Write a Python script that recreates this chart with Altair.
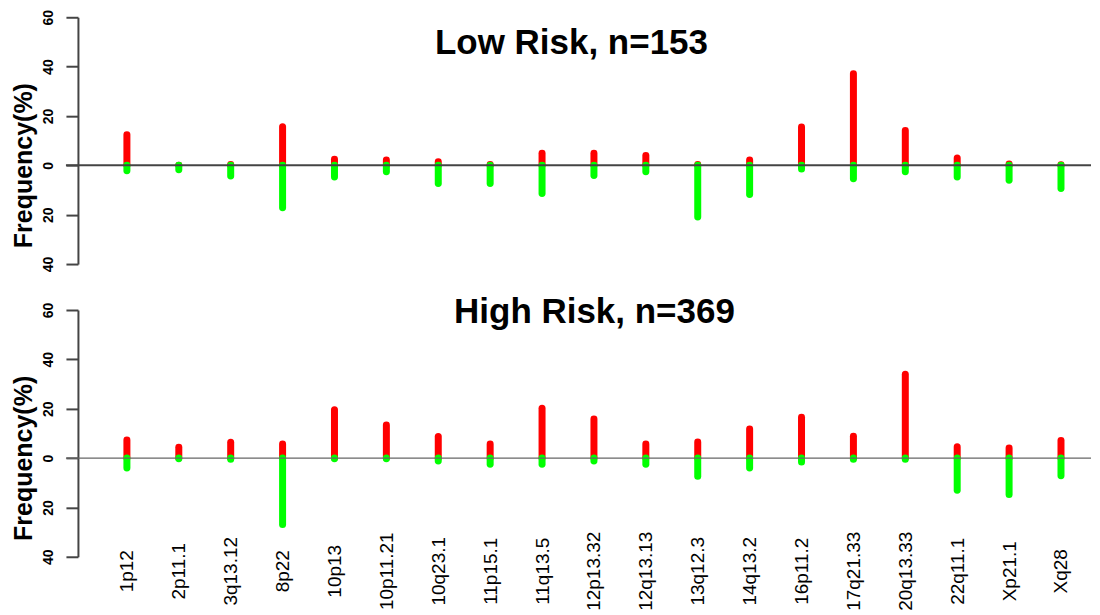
import altair as alt
import pandas as pd

labels = ["1p12", "2p11.1", "3q13.12", "8p22", "10p13", "10p11.21", "10q23.1",
          "11p15.1", "11q13.5", "12p13.32", "12q13.13", "13q12.3", "14q13.2",
          "16p11.2", "17q21.33", "20q13.33", "22q11.1", "Xp21.1", "Xq28"]

low_gain = [12.4, 0.0, 0.3, 15.6, 2.5, 2.2, 1.5, 0.3, 4.9, 4.9, 4.0, 0.3, 2.2,
            15.5, 37.1, 14.1, 3.0, 0.5, 0.2]
low_loss = [2.2, 1.8, 4.3, 17.2, 4.7, 2.6, 7.4, 7.4, 11.4, 4.1, 2.6, 20.9, 11.8,
            1.5, 5.4, 2.6, 4.7, 6.0, 9.4]
high_gain = [7.3, 4.4, 6.4, 5.7, 19.6, 13.4, 8.7, 5.7, 20.2, 15.8, 5.7, 6.5, 11.8,
             16.5, 8.8, 34.0, 4.6, 4.1, 7.1]
high_loss = [4.0, 0.3, 0.5, 26.9, 0.3, 0.3, 1.2, 2.5, 2.5, 1.2, 2.5, 7.4, 4.0,
             1.6, 0.5, 0.5, 13.0, 14.8, 7.2]

titles = ["Low Risk, n=153", "High Risk, n=369"]

W = 1014
H = 247
FONT = "Liberation Sans"


def panel(gain, loss, title, title_cx, title_base, zero_color, zero_width, show_x):
    df = pd.DataFrame({"label": labels, "gain": gain,
                       "loss": [-v for v in loss], "zero": [0] * len(labels)})
    if show_x:
        xaxis = alt.Axis(title=None, domain=False, ticks=False, tickSize=0,
                         labelAngle=270, labelFont=FONT, labelFontSize=19,
                         labelColor="#000000", labelPadding=14,
                         labelAlign="center", labelBaseline="middle", grid=False)
    else:
        xaxis = None
    xscale = alt.Scale(type="point", padding=0.761, align=0.62)
    yscale = alt.Scale(domain=[-40, 60], nice=False, zero=False)
    yaxis = alt.Axis(title="Frequency(%)", values=[-40, -20, 0, 20, 40, 60],
                     labelExpr="abs(datum.value)", grid=False,
                     domainColor="#444444", domainWidth=2,
                     tickColor="#444444", tickWidth=2, tickSize=12,
                     labelFont=FONT, labelFontSize=14, labelFontWeight="bold",
                     labelColor="#000000", labelAngle=270, labelAlign="center",
                     labelBaseline="alphabetic", labelPadding=13,
                     labelOverlap=False,
                     titleFont=FONT, titleFontSize=25, titleFontWeight="bold",
                     titleColor="#000000", titleAngle=270, titleAlign="center",
                     titleBaseline="alphabetic", titleX=-46, titleY=148)
    x = alt.X("label:N", sort=labels, scale=xscale, axis=xaxis)
    base = alt.Chart(df)
    red = base.mark_rule(color="#FF0000", strokeWidth=7, strokeCap="round").encode(
        x=x, y=alt.Y("zero:Q", scale=yscale, axis=yaxis), y2="gain:Q")
    green = base.mark_rule(color="#00FF00", strokeWidth=7, strokeCap="round").encode(
        x=x, y=alt.Y("zero:Q", scale=yscale, axis=yaxis), y2="loss:Q")
    zline = alt.Chart(pd.DataFrame({"z": [0]})).mark_rule(
        color=zero_color, strokeWidth=zero_width).encode(
        y=alt.Y("z:Q", scale=yscale, axis=yaxis), x=alt.value(-12), x2=alt.value(W))
    ttl = alt.Chart(pd.DataFrame({"t": [title]})).mark_text(
        font=FONT, fontSize=35, fontWeight="bold", color="#000000",
        align="center", baseline="alphabetic").encode(
        text="t:N", x=alt.value(title_cx), y=alt.value(title_base))
    return alt.layer(red, green, zline, ttl).properties(width=W, height=H)


top = panel(low_gain, low_loss, titles[0], W / 2 - 13, 37, "#444444", 2, False)
bottom = panel(high_gain, high_loss, titles[1], W / 2 + 10, 13, "#666666", 1.3, True)

chart = alt.vconcat(top, bottom, spacing=46).properties(
    bounds="flush",
    padding={"left": 4, "top": 1, "right": 0, "bottom": 0},
    background="#FFFFFF",
).configure_view(strokeWidth=0)

chart.save("out.html", embed_options={"renderer": "svg", "actions": False})
